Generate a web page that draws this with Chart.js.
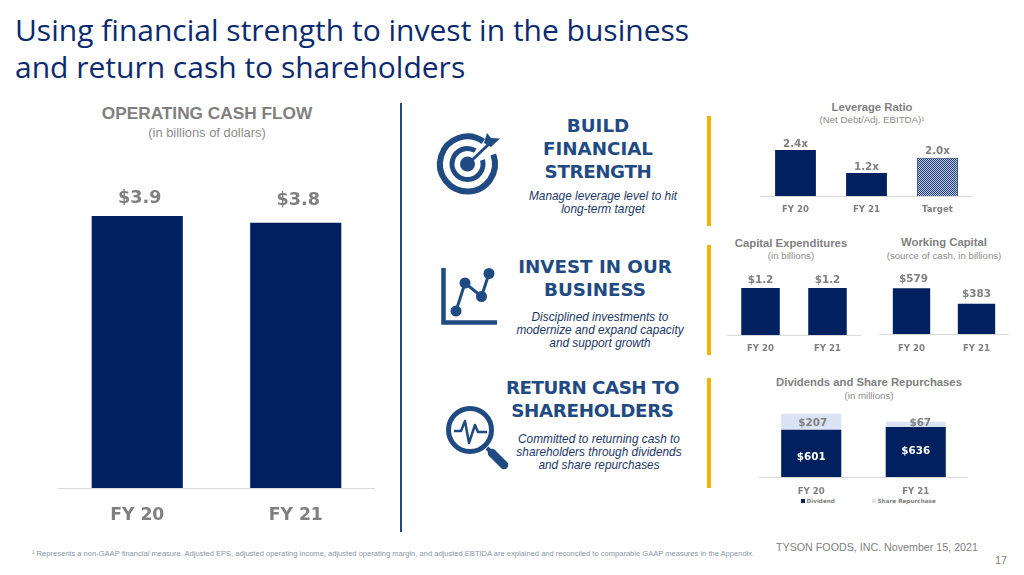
<!DOCTYPE html>
<html>
<head>
<meta charset="utf-8">
<script src="https://cdn.jsdelivr.net/npm/chart.js@4/dist/chart.umd.min.js"></script>
<style>
html,body{margin:0;padding:0;background:#fff;width:1024px;height:575px;overflow:hidden}
#slide{position:relative;width:1024px;height:575px;overflow:hidden}
.t{position:absolute;white-space:nowrap;transform:translate(-50%,-50%);line-height:1;font-family:"Liberation Sans",Arial,sans-serif}
.l{position:absolute;white-space:nowrap;line-height:1}
.h{font-family:"DejaVu Sans",Verdana,sans-serif;font-weight:700;font-size:18.3px;color:#1f4b82}
.s{font-style:italic;font-size:11.85px;color:#1c3766}
.ct{font-weight:700;font-size:11.3px;color:#7f7f7f}
.cs{font-size:9.7px;color:#8c8c8c}
canvas{position:absolute}
.bar{position:absolute;background:#f9b000;left:707px;width:4px}
svg{position:absolute;left:0;top:0}
</style>
</head>
<body>
<div id="slide">
  <div class="l" style="left:15px;top:11px;font:30px/37px 'Open Sans',sans-serif;color:#0b2a6f">Using financial strength to invest in the business<br>and return cash to shareholders</div>

  <div class="t" style="left:207px;top:114px;font-weight:700;font-size:17.25px;color:#7f7f7f">OPERATING CASH FLOW</div>
  <div class="t" style="left:207px;top:133px;font-size:12.9px;color:#8c8c8c">(in billions of dollars)</div>

  <div style="position:absolute;left:399.5px;top:103px;width:2.5px;height:429px;background:#1f4b82"></div>
  <div class="bar" style="top:116px;height:110px"></div>
  <div class="bar" style="top:245px;height:110px"></div>
  <div class="bar" style="top:378px;height:110px"></div>

  <div class="t h" style="left:598px;top:126px">BUILD</div>
  <div class="t h" style="left:598px;top:149px">FINANCIAL</div>
  <div class="t h" style="left:598px;top:172px;letter-spacing:-.4px">STRENGTH</div>
  <div class="t s" style="left:603px;top:197px">Manage leverage level to hit</div>
  <div class="t s" style="left:603px;top:210px">long-term target</div>

  <div class="t h" style="left:595px;top:267px">INVEST IN OUR</div>
  <div class="t h" style="left:595px;top:290px">BUSINESS</div>
  <div class="t s" style="left:600px;top:318px">Disciplined investments to</div>
  <div class="t s" style="left:600px;top:331px">modernize and expand capacity</div>
  <div class="t s" style="left:600px;top:344px">and support growth</div>

  <div class="t h" style="left:592.5px;top:388px;letter-spacing:-.5px">RETURN CASH TO</div>
  <div class="t h" style="left:592.5px;top:411px;letter-spacing:-.35px">SHAREHOLDERS</div>
  <div class="t s" style="left:599px;top:439.5px">Committed to returning cash to</div>
  <div class="t s" style="left:599px;top:452.5px">shareholders through dividends</div>
  <div class="t s" style="left:599px;top:465.5px">and share repurchases</div>

  <svg width="1024" height="575" viewBox="0 0 1024 575" fill="none" stroke="#1f4b82">
    <!-- target icon -->
    <path d="M493.3 154.6 A27.5 27.5 0 1 1 483.3 141.5" stroke-width="6"/>
    <path d="M482.5 160 A15.5 15.5 0 1 1 475.3 150.6" stroke-width="5"/>
    <circle cx="467.5" cy="164" r="7.5" fill="#1f4b82" stroke="none"/>
    <path d="M468 164 L490 143" stroke-width="3"/>
    <path d="M484 143 L487 133 L491 138 L500 138.5 L491 147 Z" fill="#1f4b82" stroke="none"/>
    <!-- line chart icon -->
    <path d="M443.5 268 V322.5 H497" stroke-width="4.5"/>
    <path d="M456 311 L465 283 L481.5 296.5 L489 273.5" stroke-width="3"/>
    <g fill="#1f4b82" stroke="none">
      <circle cx="456" cy="311" r="5.5"/><circle cx="465" cy="283" r="5.5"/>
      <circle cx="481.5" cy="296.5" r="5.5"/><circle cx="489" cy="273.5" r="5.5"/>
    </g>
    <!-- magnifier icon -->
    <circle cx="470" cy="430" r="21.5" stroke-width="5"/>
    <path d="M454 431 H461 L465 421 L469 443 L475 425 L478 432 H487" stroke-width="2.5" stroke-linejoin="round"/>
    <path d="M487 448 L491 452" stroke-width="4"/>
    <path d="M492 453 L504 465" stroke-width="8.5" stroke-linecap="round"/>
  </svg>

  <div class="t ct" style="left:872px;top:107.5px">Leverage Ratio</div>
  <div class="t cs" style="left:872px;top:119.5px">(Net Debt/Adj. EBITDA)¹</div>
  <div class="t ct" style="left:791px;top:243.5px">Capital Expenditures</div>
  <div class="t cs" style="left:791px;top:256px">(in billions)</div>
  <div class="t ct" style="left:944px;top:243px">Working Capital</div>
  <div class="t cs" style="left:944px;top:256px">(source of cash, in billions)</div>
  <div class="t ct" style="left:869px;top:383px">Dividends and Share Repurchases</div>
  <div class="t cs" style="left:869px;top:396px">(in millions)</div>

  <canvas id="cMain" width="317" height="345" style="left:58px;top:181px"></canvas>
  <canvas id="cLev" width="213" height="90" style="left:760px;top:130px"></canvas>
  <canvas id="cCapex" width="134" height="90" style="left:727px;top:268px"></canvas>
  <canvas id="cWork" width="130" height="90" style="left:879px;top:270px"></canvas>
  <canvas id="cDiv" width="209" height="92" style="left:759px;top:405px"></canvas>

  <div id="lgA" class="l" style="left:801px;top:498px;font:700 5.7px/6px 'DejaVu Sans',sans-serif;color:#7f7f7f"><span id="swA" style="display:inline-block;width:4px;height:4px;margin-right:1.5px"></span><span id="txA"></span></div>
  <div id="lgB" class="l" style="left:872px;top:498px;font:700 5.7px/6px 'DejaVu Sans',sans-serif;color:#7f7f7f"><span id="swB" style="display:inline-block;width:4px;height:4px;margin-right:1.5px"></span><span id="txB"></span></div>

  <div class="l" style="left:32px;top:550px;font:7.55px/8px 'Liberation Sans',sans-serif;color:#8a96a6">¹ Represents a non-GAAP financial measure. Adjusted EPS, adjusted operating income, adjusted operating margin, and adjusted EBTIDA are explained and reconciled to comparable GAAP measures in the Appendix.</div>
  <div class="l" style="left:776px;top:541px;font:10.7px/12px 'Liberation Sans',sans-serif;color:#7f7f7f">TYSON FOODS, INC. November 15, 2021</div>
  <div class="l" style="left:995px;top:554px;font:11px/12px 'Liberation Sans',sans-serif;color:#7f7f7f">17</div>
</div>

<script>
// ---- data ----
const fiscalYears = ['FY 20', 'FY 21'];
const operatingCashFlow = [3.9, 3.8];
const leverageCategories = ['FY 20', 'FY 21', 'Target'];
const leverageRatio = [2.4, 1.2, 2.0];
const capitalExpenditures = [1.2, 1.2];
const workingCapital = [579, 383];
const dividends = [601, 636];
const shareRepurchases = [207, 67];
const dividendSeriesName = 'Dividend';
const repurchaseSeriesName = 'Share Repurchase';

// ---- styling ----
const NAVY = '#002060', PALE = '#dae3f3', GREY = '#7f7f7f', AXIS = '#d9d9d9';
const BOLD = '"DejaVu Sans", Verdana, sans-serif';

function hatch() {
  const c = document.createElement('canvas');
  c.width = c.height = 2;
  const x = c.getContext('2d');
  x.fillStyle = '#c3cde2'; x.fillRect(0, 0, 2, 2);
  x.fillStyle = '#1c3a78'; x.fillRect(0, 0, 1, 1); x.fillRect(1, 1, 1, 1);
  return x.createPattern(c, 'repeat');
}

// draws the value labels through the chart's own bar elements
const valueLabels = {
  id: 'valueLabels',
  afterDatasetsDraw(chart, args, o) {
    const ctx = chart.ctx;
    ctx.save();
    ctx.textAlign = 'center';
    ctx.textBaseline = 'middle';
    chart.data.datasets.forEach((ds, d) => {
      const cfg = o.sets[d];
      chart.getDatasetMeta(d).data.forEach((bar, i) => {
        ctx.font = '700 ' + o.size + 'px ' + BOLD;
        ctx.fillStyle = cfg.color;
        const dx = (cfg.dx && cfg.dx[i]) || 0;
        const y = cfg.mode === 'mid'
          ? (bar.y + bar.base) / 2 + (cfg.dy ? cfg.dy[i] : 0)
          : bar.y - cfg.lift[i];
        ctx.fillText(cfg.fmt(ds.data[i]), bar.x + dx, y);
      });
    });
    ctx.restore();
  }
};

function barChart(id, o) {
  return new Chart(document.getElementById(id), {
    type: 'bar',
    data: { labels: o.labels, datasets: o.datasets },
    options: {
      responsive: false,
      animation: false,
      layout: { padding: 0 },
      plugins: {
        legend: { display: false },
        tooltip: { enabled: false },
        valueLabels: { size: o.labelSize, sets: o.sets }
      },
      scales: {
        x: {
          stacked: true,
          grid: { display: false, drawTicks: false },
          border: { display: true, color: AXIS, width: 1 },
          ticks: {
            color: GREY, padding: o.tickPad, autoSkip: false, maxRotation: 0,
            font: { family: BOLD, weight: '700', size: o.tickSize }
          },
          afterFit(s) { s.height = o.axisH; }
        },
        y: { stacked: true, display: false, min: 0, max: o.max }
      }
    },
    plugins: [valueLabels]
  });
}

const bars = (data, extra) => Object.assign({ data, backgroundColor: NAVY, borderWidth: 0, barPercentage: 0.575, categoryPercentage: 1 }, extra);
const money = v => '$' + v;
const money1 = v => '$' + v.toFixed(1);
const times = v => v.toFixed(1) + 'x';

barChart('cMain', {
  labels: fiscalYears, max: 4.40, axisH: 38, tickPad: 17, tickSize: 17.2, labelSize: 17.6,
  datasets: [bars(operatingCashFlow)],
  sets: [{ color: GREY, fmt: money1, lift: [17.5, 22.5], dx: [2.5, 2.5] }]
});
const hatchFill = hatch();
barChart('cLev', {
  labels: leverageCategories, max: 3.44, axisH: 24, tickPad: 9, tickSize: 8.6, labelSize: 10.4,
  datasets: [bars(leverageRatio, {
    backgroundColor: [NAVY, NAVY, hatchFill],
    borderColor: [NAVY, NAVY, '#1c3a78'],
    borderWidth: [0, 0, 1]
  })],
  sets: [{ color: GREY, fmt: times, lift: [6, 5.5, 6] }]
});
barChart('cCapex', {
  labels: fiscalYears, max: 1.71, axisH: 23, tickPad: 9, tickSize: 8.6, labelSize: 10.4,
  datasets: [bars(capitalExpenditures)],
  sets: [{ color: GREY, fmt: money1, lift: [8, 8] }]
});
barChart('cWork', {
  labels: fiscalYears, max: 812, axisH: 26, tickPad: 9.5, tickSize: 8.6, labelSize: 10.4,
  datasets: [bars(workingCapital)],
  sets: [{ color: GREY, fmt: money, lift: [9.5, 9.5], dx: [2, 0] }]
});
barChart('cDiv', {
  labels: fiscalYears, max: 918, axisH: 20, tickPad: 10, tickSize: 8.6, labelSize: 10.4,
  datasets: [
    bars(dividends, { label: dividendSeriesName }),
    bars(shareRepurchases, { label: repurchaseSeriesName, backgroundColor: PALE })
  ],
  sets: [
    { color: '#ffffff', fmt: money, mode: 'mid', dy: [4, -0.5], dx: [0, 0] },
    { color: GREY, fmt: money, mode: 'mid', dy: [2, -1.5], dx: [1.5, 4.5] }
  ]
});

// legend row under the dividends chart
document.getElementById('swA').style.background = NAVY;
document.getElementById('swB').style.background = PALE;
document.getElementById('txA').textContent = dividendSeriesName;
document.getElementById('txB').textContent = repurchaseSeriesName;
</script>
</body>
</html>
